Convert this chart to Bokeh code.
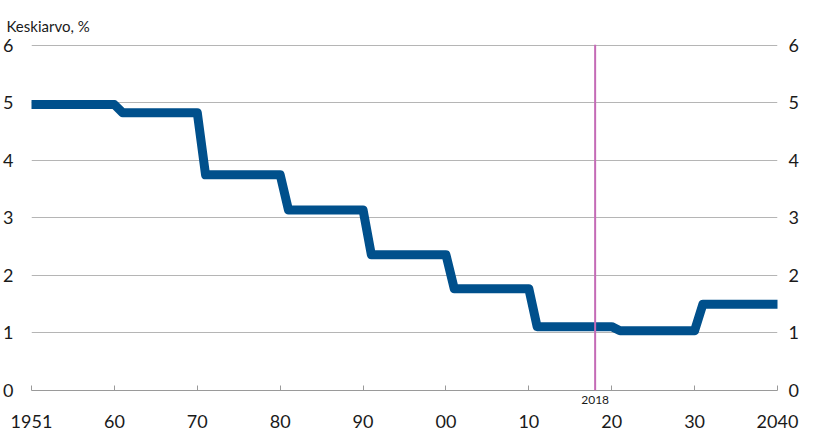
from bokeh.plotting import figure
from bokeh.models import LinearAxis, FixedTicker, Span, Range1d, Title
from bokeh.embed import file_html
from bokeh.resources import INLINE

# Decade averages (interest rate average, %)
decade_start = [1950, 1961, 1971, 1981, 1991, 2001, 2011, 2021, 2031]
decade_end = [1960, 1970, 1980, 1990, 2000, 2010, 2020, 2030, 2040]
decade_values = [4.97, 4.83, 3.75, 3.14, 2.36, 1.77, 1.11, 1.04, 1.50]

x_ticks = [1950, 1960, 1970, 1980, 1990, 2000, 2010, 2020, 2030, 2040]
x_tick_labels = ["1951", "60", "70", "80", "90", "00", "10", "20", "30", "2040"]
y_ticks = [0, 1, 2, 3, 4, 5, 6]
marker_year = 2018
marker_label = "2018"
title_text = "Keskiarvo, %"

FONT = "Lato"
TXT = "#1a1a1a"
GRAY = "#9a9a9a"

xs, ys = [], []
for s, e, v in zip(decade_start, decade_end, decade_values):
    xs += [s, e]
    ys += [v, v]

p = figure(width=801, height=430, output_backend="svg", toolbar_location=None,
           x_range=Range1d(1950, 2040), y_range=Range1d(0, 6.015),
           x_axis_location=None,
           min_border_left=25, min_border_right=0, min_border_top=44, min_border_bottom=0)
p.outline_line_color = None
p.xgrid.grid_line_color = None
p.ygrid.grid_line_color = "#b5b5b5"
p.ygrid.ticker = FixedTicker(ticks=y_ticks[1:])

p.title = Title(text=title_text, align="left", offset=-25, standoff=20,
                text_font=FONT, text_font_size="15px", text_font_style="normal",
                text_color=TXT)

# x axis 1: axis line, inward ticks, marker-year label only
xa = LinearAxis(ticker=FixedTicker(ticks=x_ticks + [marker_year]))
xa.major_label_overrides = {t: "" for t in x_ticks}
xa.major_label_overrides[marker_year] = marker_label
xa.axis_line_color = GRAY
xa.major_tick_line_color = GRAY
xa.major_tick_in = 5
xa.major_tick_out = 0
xa.minor_tick_line_color = None
xa.major_label_standoff = 5
xa.major_label_text_font = FONT
xa.major_label_text_font_size = "12px"
xa.major_label_text_color = TXT
p.add_layout(xa, "below")

# x axis 2: decade labels
xb = LinearAxis(ticker=FixedTicker(ticks=x_ticks))
xb.major_label_overrides = {t: l for t, l in zip(x_ticks, x_tick_labels)}
xb.axis_line_color = None
xb.major_tick_line_color = None
xb.minor_tick_line_color = None
xb.major_label_standoff = 2
xb.major_label_text_font = FONT
xb.major_label_text_font_size = "18px"
xb.major_label_text_color = TXT
p.add_layout(xb, "below")

# y axes
ya = p.yaxis[0]
ya.ticker = FixedTicker(ticks=y_ticks)
ya.axis_line_color = None
ya.major_tick_line_color = None
ya.minor_tick_line_color = None
ya.major_label_standoff = 12
ya.major_label_text_font = FONT
ya.major_label_text_font_size = "18px"
ya.major_label_text_color = TXT

ra = LinearAxis(ticker=FixedTicker(ticks=y_ticks))
ra.axis_line_color = None
ra.major_tick_line_color = None
ra.minor_tick_line_color = None
ra.major_label_standoff = 5
ra.major_label_text_font = FONT
ra.major_label_text_font_size = "18px"
ra.major_label_text_color = TXT
p.add_layout(ra, "right")

p.add_layout(Span(location=marker_year, dimension="height", line_color="#c46bb6", line_width=2))

p.line(xs, ys, line_color="#00508c", line_width=9, line_join="round", line_cap="round")

open("out.html", "w").write(file_html(p, INLINE))
